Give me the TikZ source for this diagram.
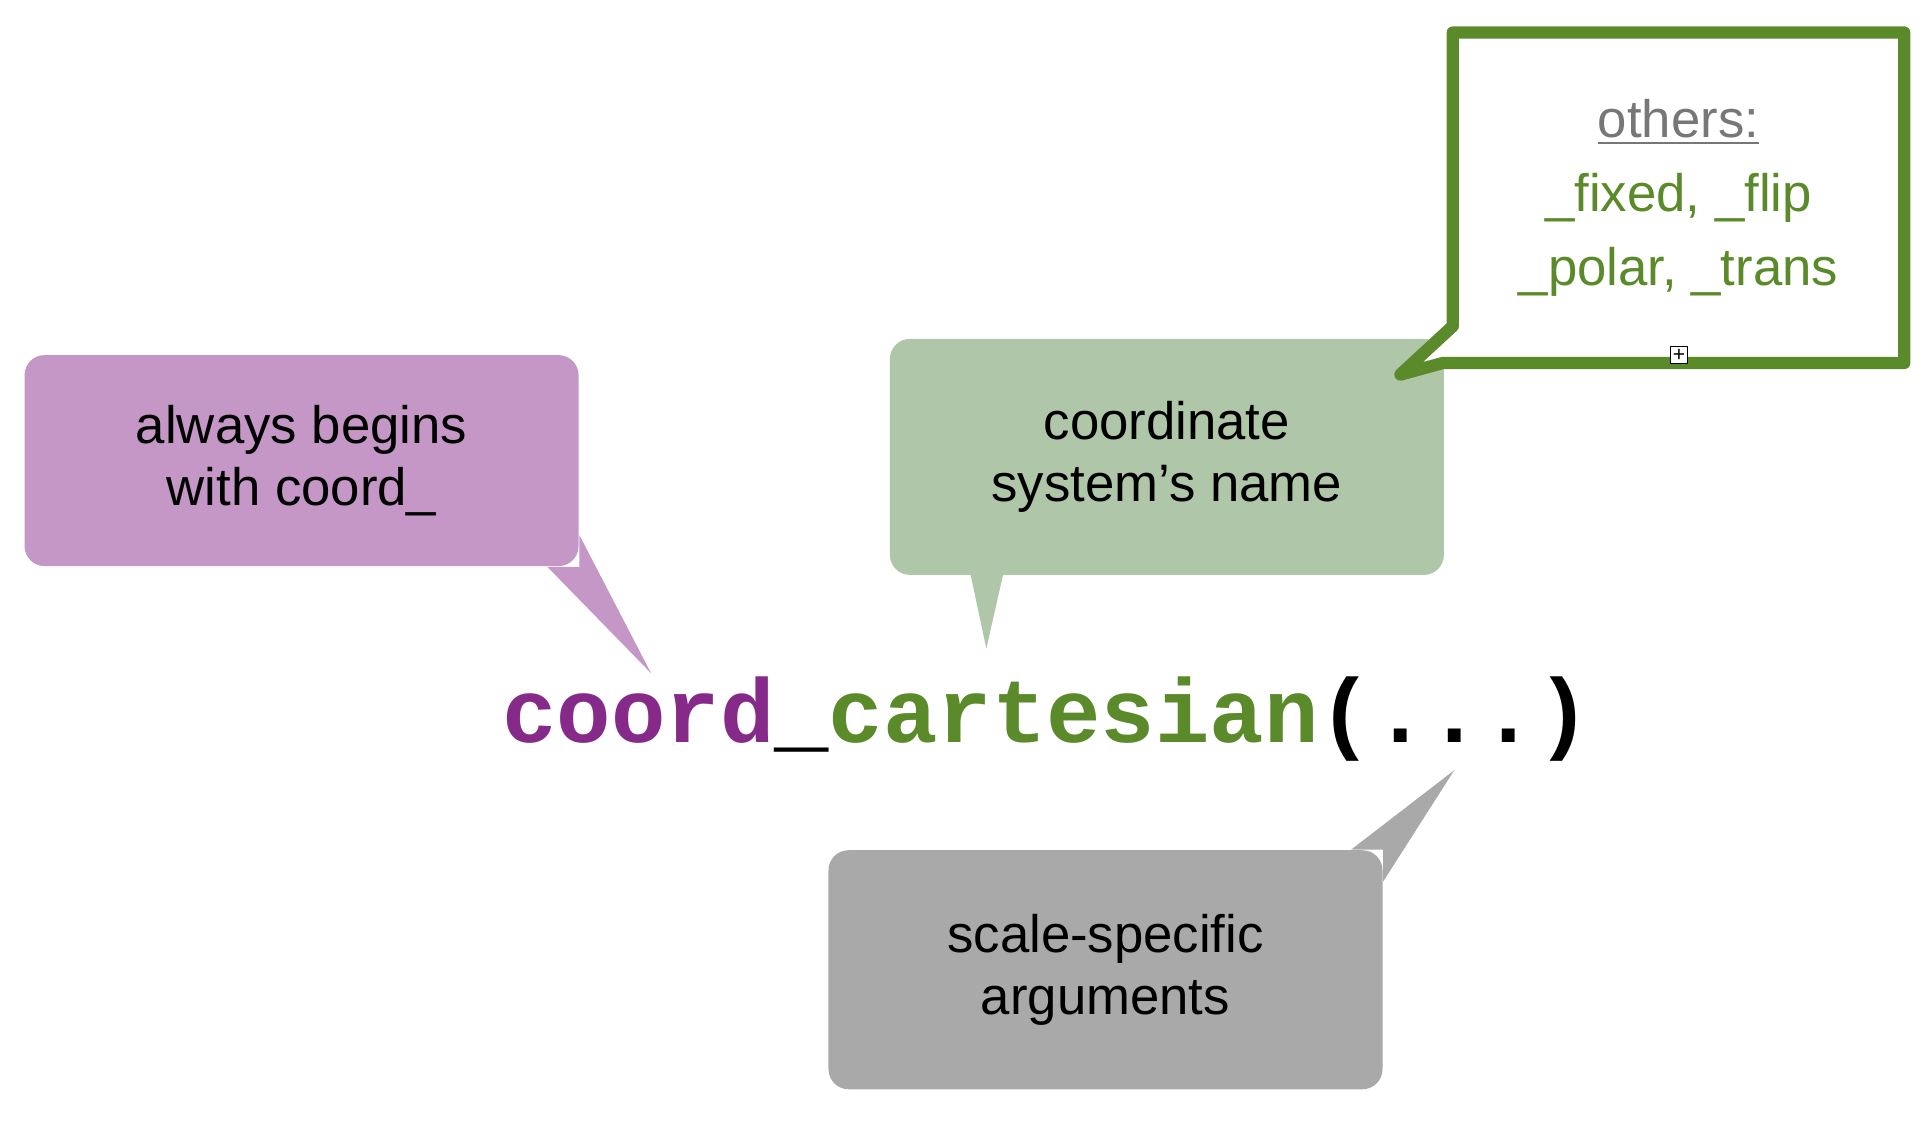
\documentclass[tikz,border=0pt]{standalone}
\usepackage{fontspec}
\setmainfont{Liberation Sans}
\newfontfamily\codefont{Liberation Mono}
\usetikzlibrary{positioning,calc}

\definecolor{calloutpurple}{HTML}{C497C6}
\definecolor{calloutgreen}{HTML}{AFC6A8}
\definecolor{calloutgray}{HTML}{A9A9A9}
\definecolor{codepurple}{HTML}{862A8A}
\definecolor{codegreen}{HTML}{5A8A2A}
\definecolor{othersgray}{HTML}{777777}

\tikzset{
  callout/.style={rounded corners=0.2cm,align=center,inner sep=0pt,
    font=\fontsize{15}{17.5}\selectfont,minimum width=5.54cm},
}

\begin{document}
\begin{tikzpicture}[x=0.01228cm,y=-0.01228cm]
\useasboundingbox (0,0) rectangle (1568,916);

% tip points of the tails
\coordinate (TipBegins) at (530,548);
\coordinate (TipName) at (803,528);
\coordinate (TipArgs) at (1184,627);
\coordinate (TipOthers) at (1140,305);

% purple
\node[callout,fill=calloutpurple,minimum height=2.11cm] (Begins) at (245.5,375) {always begins\\with coord\_};
\fill[calloutpurple] ($(Begins.south east)+(-26,0)$) -- (TipBegins) -- ($(Begins.south east)+(0,-26)$) -- (Begins.south east) -- cycle;

% green
\node[callout,fill=calloutgreen,minimum height=2.36cm] (Name) at (950,372) {coordinate\\system’s name};
\fill[calloutgreen] ($(Name.south west)+(66,-2)$) -- (TipName) -- ($(Name.south west)+(93,-2)$) -- cycle;

% gray
\node[callout,fill=calloutgray,minimum height=2.39cm] (Args) at (900,789.5) {scale-specific\\arguments};
\fill[calloutgray] ($(Args.north east)+(-26,0)$) -- (TipArgs) -- ($(Args.north east)+(0,26)$) -- (Args.north east) -- cycle;

% code
\node[font=\codefont\bfseries\fontsize{25.8}{28}\selectfont,inner sep=0pt] (Code) at (852,585)
  {\textcolor{codepurple}{coord}\_\textcolor{codegreen}{cartesian}(...)};

% others frame
\node[align=center,inner sep=0pt,minimum width=4.5cm,minimum height=3.29cm,
  font=\fontsize{15}{21}\selectfont] (Others) at (1366.5,161)
  {\textcolor{othersgray}{\underline{others:}}\\\textcolor{codegreen}{\_fixed, \_flip}\\\textcolor{codegreen}{\_polar, \_trans}};
\filldraw[draw=codegreen,fill=white,line width=3.5pt,line join=round]
  (Others.north west) -- (Others.north east) -- (Others.south east)
  -- ($(Others.south west)+(-8,0)$) -- (TipOthers) -- ($(Others.south west)+(0,-30)$) -- cycle;
\node[align=center,inner sep=0pt,font=\fontsize{15}{21}\selectfont] at (Others.center)
  {\textcolor{othersgray}{\underline{others:}}\\\textcolor{codegreen}{\_fixed, \_flip}\\\textcolor{codegreen}{\_polar, \_trans}};
\node[draw,fill=white,line width=0.4pt,inner sep=0pt,minimum size=0.17cm,font=\fontsize{6}{6}\selectfont] (Expand) at (1367,289) {+};

\end{tikzpicture}
\end{document}
